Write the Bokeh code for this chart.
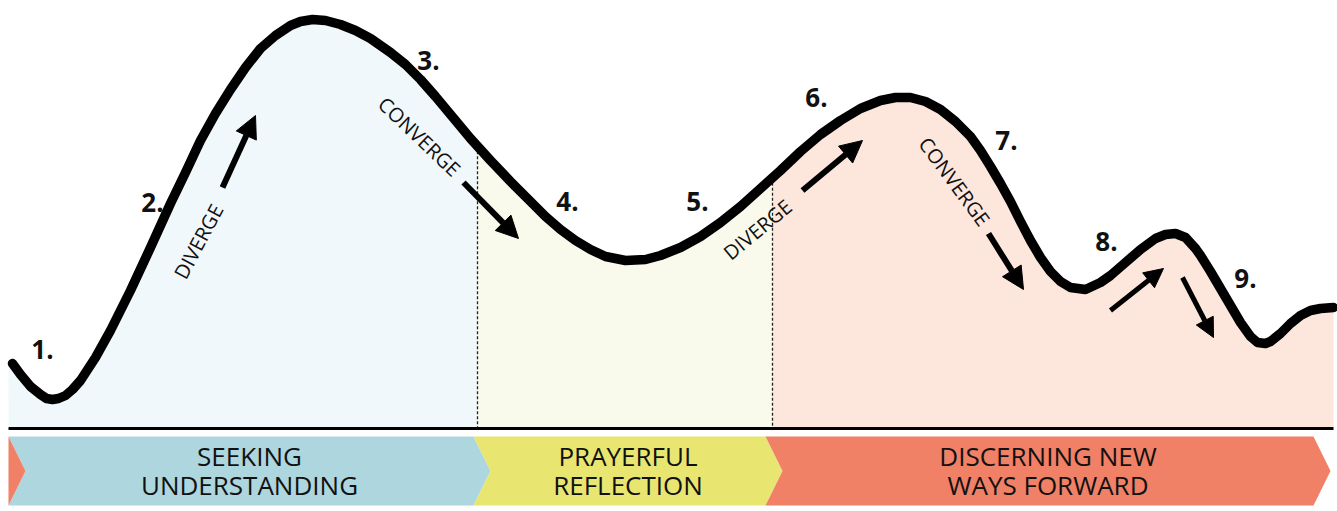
import numpy as np
from bokeh.plotting import figure
from bokeh.models import Range1d, Arrow, NormalHead
from bokeh.core.properties import value
from bokeh.embed import file_html
from bokeh.resources import INLINE

# ---- data (in picture pixel units) ----
curve_x = [12, 20, 30, 40, 46, 52, 58, 65, 72, 80, 95, 110, 130, 150, 170, 185, 200, 215, 230, 245,
           260, 275, 290, 300, 312, 325, 340, 355, 370, 390, 405, 420, 435, 450, 470,
           490, 510, 530, 545, 560, 575, 590, 605, 625, 645, 660, 680, 700, 720, 740,
           760, 780, 800, 820, 840, 860, 880, 895, 910, 925, 940, 955, 970, 980, 990,
           1000, 1010, 1020, 1030, 1040, 1050, 1060, 1070, 1085, 1100, 1110, 1125, 1140,
           1155, 1165, 1175, 1185, 1195, 1200, 1210, 1220, 1230, 1240, 1250, 1257, 1265,
           1270, 1280, 1290, 1300, 1310, 1320, 1333]
curve_y = [363, 374, 386, 394, 398, 399, 398, 395, 389, 380, 357, 330, 290, 247, 203, 172, 140, 113, 89, 67,
           48, 35, 25, 21, 19, 20, 24, 30, 38, 52, 64, 79, 96, 114, 138,
           160, 181, 201, 216, 229, 240, 249, 256, 260, 259, 255, 247, 236, 222, 206,
           188, 170, 151, 134, 120, 108, 100, 97, 97, 101, 109, 121, 136, 150, 166,
           183, 201, 221, 240, 257, 271, 281, 287, 289, 282, 275, 262, 249,
           238, 234, 233, 237, 248, 255, 271, 288, 305, 322, 336, 342, 343,
           341, 333, 323, 315, 310, 308, 307]

phase_bounds = [8, 477, 772, 1333]
phase_fill = ["#F0F8FB", "#F9FAEB", "#FDE7DD"]

band_names = [["SEEKING", "UNDERSTANDING"], ["PRAYERFUL", "REFLECTION"],
              ["DISCERNING NEW", "WAYS FORWARD"]]
band_start = [8, 473, 765]
band_end = [473, 765, 1313]
band_color = ["#AED6DF", "#E8E671", "#F08066"]
band_line_y = [455, 484]

step_labels = ["1.", "2.", "3.", "4.", "5.", "6.", "7.", "8.", "9."]
step_x = [42, 152, 428, 567, 697, 816, 1006, 1106, 1245]
step_y = [349, 202, 60, 201, 201, 97, 140, 241, 278]

move_text = ["DIVERGE", "CONVERGE", "DIVERGE", "CONVERGE"]
move_x = [198, 419, 757, 954]
move_y = [241, 136, 229, 181]
move_angle_deg = [62, -43.6, 39.6, -53.5]

arrow_x0 = [222, 463, 802, 988, 1110, 1182]
arrow_y0 = [187, 182, 190, 233, 310, 277]
arrow_x1 = [255, 518, 862, 1023, 1163, 1213]
arrow_y1 = [115, 238, 140, 289, 268, 337]
arrow_size = [22, 22, 22, 22, 19, 19]

baseline_y = 428
band_top, band_bot, notch = 436, 505, 17

FONT = "Open Sans"

# ---- figure ----
p = figure(width=1337, height=511, x_range=Range1d(0, 1337), y_range=Range1d(511, 0),
           output_backend="svg", toolbar_location=None, min_border=0,
           x_axis_location=None, y_axis_location=None)
p.grid.visible = False
p.outline_line_color = None
p.background_fill_color = "white"
p.border_fill_color = "white"

cx = np.array(curve_x, dtype=float)
cy = np.array(curve_y, dtype=float)
ext_x = np.concatenate([[8.0], cx])
ext_y = np.concatenate([[cy[0]], cy])

# filled phases under the curve
for i in range(3):
    a, b = phase_bounds[i], phase_bounds[i + 1]
    inner = ext_x[(ext_x > a) & (ext_x < b)]
    xs = np.concatenate([[a], inner, [b]])
    ys = np.interp(xs, ext_x, ext_y)
    p.varea(x=xs, y1=ys, y2=baseline_y, fill_color=phase_fill[i], fill_alpha=1)

# dotted phase separators
for xb in phase_bounds[1:3]:
    yt = float(np.interp(xb, cx, cy))
    p.segment(x0=[xb], y0=[yt], x1=[xb], y1=[baseline_y], line_color="#222222",
              line_width=1.3, line_dash="3 2")

# baseline
p.segment(x0=[8], y0=[baseline_y], x1=[1333], y1=[baseline_y], line_color="black", line_width=3)

# curve
p.line(cx, cy, line_color="black", line_width=9.5, line_join="round", line_cap="round")

# arrows
for i in range(len(arrow_x0)):
    head = NormalHead(size=arrow_size[i], fill_color="black", line_color="black", line_width=1)
    p.add_layout(Arrow(end=head, x_start=arrow_x0[i], y_start=arrow_y0[i],
                       x_end=arrow_x1[i], y_end=arrow_y1[i],
                       line_width=6 if arrow_size[i] > 20 else 5, line_color="black"))

# step numbers
p.text(x=step_x, y=step_y, text=step_labels, text_font=value(FONT), text_font_style="bold",
       text_font_size="26px", text_align="center", text_baseline="middle", text_color="#111111")

# diverge / converge labels
p.text(x=move_x, y=move_y, text=move_text, angle=[np.deg2rad(a) for a in move_angle_deg],
       text_font=value(FONT), text_font_size="20px", text_align="center",
       text_baseline="middle", text_color="#111111")

# bottom chevron bands
xs_list, ys_list = [], []
mid = (band_top + band_bot) / 2
for i in range(3):
    s, e = band_start[i], band_end[i]
    xs_list.append([s, e, e + notch, e, s, s + notch])
    ys_list.append([band_top, band_top, mid, band_bot, band_bot, mid])
p.patches(xs_list, ys_list, fill_color=band_color, line_color=None)
p.patch([8, 8 + notch, 8], [band_top, mid, band_bot], fill_color=band_color[2], line_color=None)

for i in range(3):
    cxm = (band_start[i] + notch / 2 + band_end[i] + notch / 2) / 2
    p.text(x=[cxm, cxm], y=band_line_y, text=band_names[i], text_font=value(FONT),
           text_font_size="26px", text_align="center", text_baseline="middle",
           text_color="#111111")

open("out.html", "w").write(file_html(p, INLINE))
